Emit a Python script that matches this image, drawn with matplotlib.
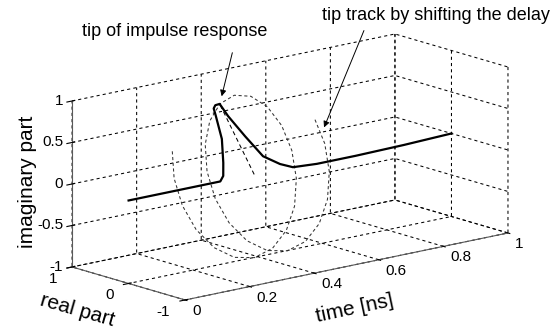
import matplotlib
matplotlib.use("Agg")

import matplotlib.pyplot as plt
from mpl_toolkits.mplot3d import proj3d

plt.rcParams["font.family"] = ["Liberation Sans", "DejaVu Sans"]

# impulse response: time [ns], real part, imaginary part
resp_t = [0.0, 0.10, 0.20, 0.284, 0.30, 0.318, 0.347, 0.362, 0.366, 0.375,
          0.389, 0.396, 0.416, 0.439, 0.476, 0.508, 0.58, 0.70, 0.85, 1.0]
resp_re = [0.0, 0.0, 0.0, 0.0, 0.039, 0.141, 0.332, 0.527, 0.585, 0.608,
           0.611, 0.502, 0.315, 0.129, 0.040, -0.006, -0.019, -0.019, -0.013, 0.0]
resp_im = [0.0, 0.0, 0.0, 0.0, 0.046, 0.169, 0.395, 0.628, 0.697, 0.724,
           0.728, 0.597, 0.375, 0.153, 0.047, -0.008, -0.023, -0.023, -0.015, 0.0]

# track of the tip when the delay is shifted
track_t = [0.2992, 0.3048, 0.3105, 0.3162, 0.3218, 0.3275, 0.3332, 0.3388,
           0.3445, 0.3502, 0.3558, 0.3615, 0.3672, 0.3728, 0.3785, 0.3842,
           0.3898, 0.3955, 0.4012, 0.4068, 0.4125, 0.4182, 0.4238, 0.4295,
           0.4352, 0.4408, 0.4465, 0.4522, 0.4578, 0.4635, 0.4692]
track_re = [0.936, 0.936, 0.823, 0.611, 0.325, 0.0, -0.325, -0.611,
            -0.823, -0.936, -0.936, -0.823, -0.611, -0.325, 0.0, 0.325,
            0.611, 0.823, 0.936, 0.936, 0.823, 0.611, 0.325, 0.0,
            -0.325, -0.611, -0.823, -0.936, -0.936, -0.823, -0.611]
track_im = [0.165, -0.165, -0.475, -0.728, -0.893, -0.95, -0.893, -0.728,
            -0.475, -0.165, 0.165, 0.475, 0.728, 0.893, 0.95, 0.893,
            0.728, 0.475, 0.165, -0.165, -0.475, -0.728, -0.893, -0.95,
            -0.893, -0.728, -0.475, -0.165, 0.165, 0.475, 0.728]

# line from the time axis to the tip
radius_t = [0.389, 0.389]
radius_re = [0.0, 0.611]
radius_im = [0.0, 0.728]

time_ticks = [0, 0.2, 0.4, 0.6, 0.8, 1]
time_labels = ["0", "0.2", "0.4", "0.6", "0.8", "1"]
real_ticks = [-1, 0, 1]
real_labels = ["-1", "0", "1"]
imag_ticks = [-1, -0.5, 0, 0.5, 1]
imag_labels = ["-1", "-0.5", "0", "0.5", "1"]

fig = plt.figure(figsize=(5.55, 3.33), dpi=100)

# square axes kept inside the figure, box enlarged with zoom
W = 320.0
cx, cy = 285.7, 333 - 171.3
ax = fig.add_axes(
    [(cx - W / 2) / 555, (cy - W / 2) / 333, W / 555, W / 333],
    projection="3d"
)
ax.set_proj_type("ortho")
ax.view_init(elev=14.25, azim=-130.13)
ax.set_box_aspect((422.4, 175.4, 171.3), zoom=474.0 / W)

ax.plot(track_t, track_re, track_im,
        color="0.2", lw=0.75, dashes=(3, 2.5), clip_on=False)
ax.plot(radius_t, radius_re, radius_im,
        color="k", lw=0.75, dashes=(4, 3), clip_on=False)
ax.plot(resp_t, resp_re, resp_im,
        color="k", lw=1.6, clip_on=False)

ax.set_xlim(0, 1)
ax.set_ylim(-1, 1)
ax.set_zlim(-1, 1)
ax.set_xticks(time_ticks)
ax.set_yticks(real_ticks)
ax.set_zticks(imag_ticks)

for axis in (ax.xaxis, ax.yaxis, ax.zaxis):
    axis.set_tick_params(label1On=False)
    axis.label.set_visible(False)
    axis.offsetText.set_visible(False)
    axis.set_pane_color((1, 1, 1, 0))
    axis.pane.set_edgecolor((1, 1, 1, 0))
    axis._axinfo["grid"].update(color="k", linewidth=0.75,
                                linestyle=(0, (3, 3)))
    axis.line.set_color("0.35")
    axis.line.set_linewidth(0.8)

for t in (ax.title, ax._left_title, ax._right_title):
    t.set_visible(False)

# tick labels, MATLAB style: project the 3D spot, then place 2D text
fig.canvas.draw()
M = ax.get_proj()


def put_label(x, y, z, lab, ha):
    px, py, _ = proj3d.proj_transform(x, y, z, M)
    ax.text2D(px, py, lab, ha=ha, va="center", fontsize=11)


for t, lab in zip(time_ticks, time_labels):
    put_label(t, -1.124, -1.108, lab, "left")
for r, lab in zip(real_ticks, real_labels):
    put_label(-0.046, r, -1.107, lab, "right")
for z, lab in zip(imag_ticks, imag_labels):
    put_label(-0.028, 1, z + 0.023, lab, "right")

# axis titles
fig.text(27.5 / 555, 1 - 182 / 333, "imaginary part", rotation=90,
         ha="center", va="center", fontsize=15)
fig.text(77 / 555, 1 - 310 / 333, "real part", rotation=-16,
         ha="center", va="center", fontsize=15, rotation_mode="anchor")
fig.text(355 / 555, 1 - 308 / 333, "time [ns]", rotation=12,
         ha="center", va="center", fontsize=15, rotation_mode="anchor")

fig.add_artist(matplotlib.patches.FancyArrowPatch(
    (233, 333 - 50), (221, 333 - 99), transform=None,
    arrowstyle="-|>", color="k", lw=0.7, mutation_scale=9))
fig.add_artist(matplotlib.patches.FancyArrowPatch(
    (365, 333 - 28), (323, 333 - 130), transform=None,
    arrowstyle="-|>", color="k", lw=0.7, mutation_scale=9))
fig.text(175 / 555, 1 - 31 / 333, "tip of impulse response",
         ha="center", va="center", fontsize=13)
fig.text(436 / 555, 1 - 15 / 333, "tip track by shifting the delay",
         ha="center", va="center", fontsize=13)

fig.savefig("out.png", dpi=100)
